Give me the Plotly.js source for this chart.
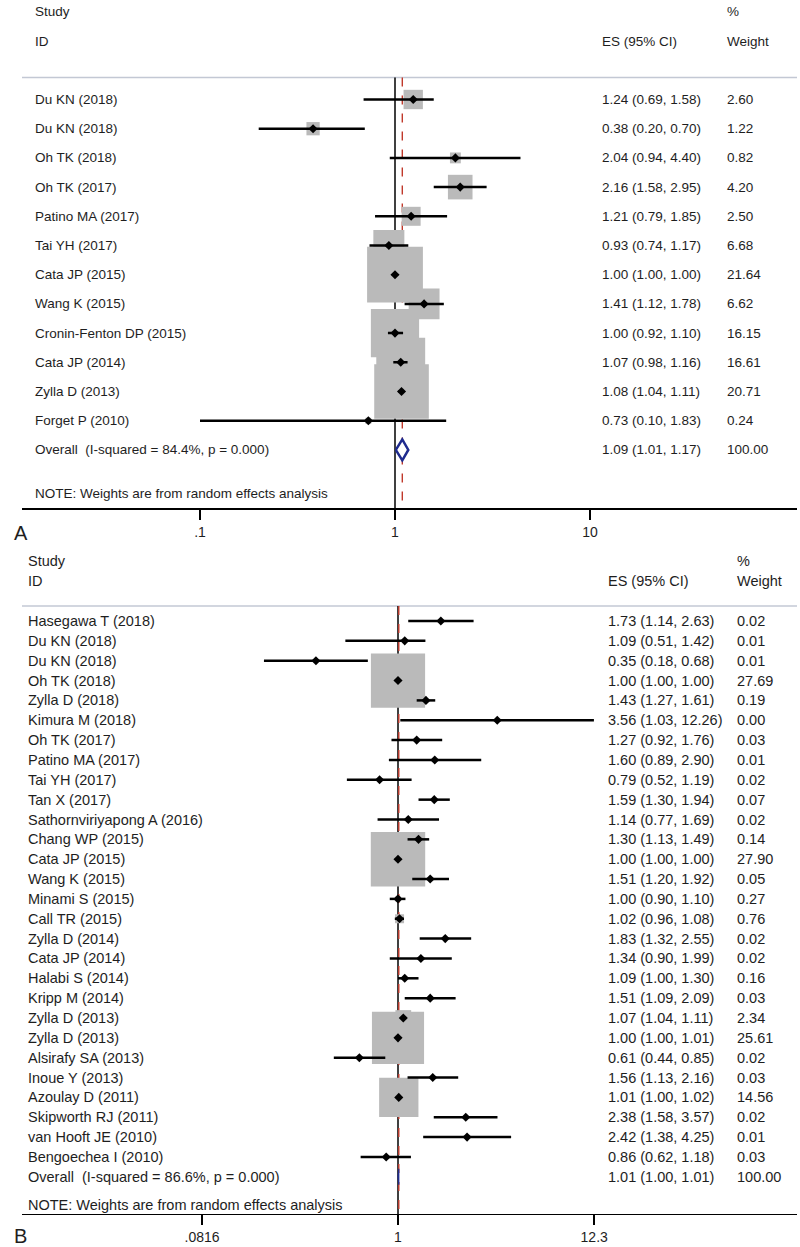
<!DOCTYPE html>
<html>
<head>
<meta charset="utf-8">
<script src="https://cdn.plot.ly/plotly-3.0.1.min.js"></script>
<style>
  body { margin: 0; background: #fff; }
  #forest { width: 800px; height: 1247px; }
</style>
</head>
<body>
<div id="forest"></div>
<script>
// Panel A - study estimates (ES with 95% CI) and random-effects weights
var studiesA = ['Du KN (2018)', 'Du KN (2018)', 'Oh TK (2018)', 'Oh TK (2017)', 'Patino MA (2017)',
    'Tai YH (2017)', 'Cata JP (2015)', 'Wang K (2015)', 'Cronin-Fenton DP (2015)', 'Cata JP (2014)',
    'Zylla D (2013)', 'Forget P (2010)'];
var esA = [1.24, 0.38, 2.04, 2.16, 1.21, 0.93, 1.00, 1.41, 1.00, 1.07, 1.08, 0.73];
var loA = [0.69, 0.20, 0.94, 1.58, 0.79, 0.74, 1.00, 1.12, 0.92, 0.98, 1.04, 0.10];
var hiA = [1.58, 0.70, 4.40, 2.95, 1.85, 1.17, 1.00, 1.78, 1.10, 1.16, 1.11, 1.83];
var weightA = [2.60, 1.22, 0.82, 4.20, 2.50, 6.68, 21.64, 6.62, 16.15, 16.61, 20.71, 0.24];
var overallA = [1.09, 1.01, 1.17, 100.00];
var overallLabelA = 'Overall  (I-squared = 84.4%, p = 0.000)';

// Panel B
var studiesB = ['Hasegawa T (2018)', 'Du KN (2018)', 'Du KN (2018)', 'Oh TK (2018)', 'Zylla D (2018)',
    'Kimura M (2018)', 'Oh TK (2017)', 'Patino MA (2017)', 'Tai YH (2017)', 'Tan X (2017)',
    'Sathornviriyapong A (2016)', 'Chang WP (2015)', 'Cata JP (2015)', 'Wang K (2015)', 'Minami S (2015)',
    'Call TR (2015)', 'Zylla D (2014)', 'Cata JP (2014)', 'Halabi S (2014)', 'Kripp M (2014)',
    'Zylla D (2013)', 'Zylla D (2013)', 'Alsirafy SA (2013)', 'Inoue Y (2013)', 'Azoulay D (2011)',
    'Skipworth RJ (2011)', 'van Hooft JE (2010)', 'Bengoechea I (2010)'];
var esB = [1.73, 1.09, 0.35, 1.00, 1.43, 3.56, 1.27, 1.60, 0.79, 1.59, 1.14, 1.30, 1.00, 1.51,
    1.00, 1.02, 1.83, 1.34, 1.09, 1.51, 1.07, 1.00, 0.61, 1.56, 1.01, 2.38, 2.42, 0.86];
var loB = [1.14, 0.51, 0.18, 1.00, 1.27, 1.03, 0.92, 0.89, 0.52, 1.30, 0.77, 1.13, 1.00, 1.20,
    0.90, 0.96, 1.32, 0.90, 1.00, 1.09, 1.04, 1.00, 0.44, 1.13, 1.00, 1.58, 1.38, 0.62];
var hiB = [2.63, 1.42, 0.68, 1.00, 1.61, 12.26, 1.76, 2.90, 1.19, 1.94, 1.69, 1.49, 1.00, 1.92,
    1.10, 1.08, 2.55, 1.99, 1.30, 2.09, 1.11, 1.01, 0.85, 2.16, 1.02, 3.57, 4.25, 1.18];
var weightB = [0.02, 0.01, 0.01, 27.69, 0.19, 0.00, 0.03, 0.01, 0.02, 0.07, 0.02, 0.14, 27.90, 0.05,
    0.27, 0.76, 0.02, 0.02, 0.16, 0.03, 2.34, 25.61, 0.02, 0.03, 14.56, 0.02, 0.01, 0.03];
var overallB = [1.01, 1.00, 1.01, 100.00];
var overallLabelB = 'Overall  (I-squared = 86.6%, p = 0.000)';

var ticksA = [0.1, 1, 10];
var tickTextA = ['.1', '1', '10'];
var ticksB = [0.0816, 1, 12.3];
var tickTextB = ['.0816', '1', '12.3'];

var FONT = 'Liberation Sans, Arial, sans-serif';
var TEXT = '#1e1e1e';
var BOX = '#bababa';
var DIAMOND = '#1f2b8e';

function fmt(v) { return v.toFixed(2); }

// builds the traces + annotations for one panel
function panel(opt) {
    var n = opt.studies.length;
    var rows = opt.studies.map(function (s, i) { return i + 1; });
    var ovRow = n + 1;
    var ci = { x: [], y: [] };
    for (var i = 0; i < n; i++) {
        ci.x.push(opt.lo[i], opt.hi[i], null);
        ci.y.push(rows[i], rows[i], null);
    }
    var ov = opt.overall;
    var traces = [
        {   // weight boxes
            x: opt.es, y: rows, xaxis: opt.xa, yaxis: opt.ya,
            type: 'scatter', mode: 'markers', hoverinfo: 'skip',
            marker: {
                symbol: 'square', color: BOX, opacity: 1, line: { width: 0 },
                size: opt.weight.map(function (w) { return opt.boxScale * Math.sqrt(w); })
            }
        },
        {   // confidence intervals
            x: ci.x, y: ci.y, xaxis: opt.xa, yaxis: opt.ya,
            type: 'scatter', mode: 'lines', hoverinfo: 'skip',
            line: { color: '#000', width: 2.5 }
        },
        {   // point estimates
            x: opt.es, y: rows, xaxis: opt.xa, yaxis: opt.ya,
            type: 'scatter', mode: 'markers', hoverinfo: 'skip',
            marker: { symbol: 'diamond', size: 7, color: '#000', opacity: 1 }
        },
        {   // overall diamond
            x: [ov[1], ov[0], ov[2], ov[0], ov[1]],
            y: [ovRow, ovRow - opt.dh, ovRow, ovRow + opt.dh, ovRow],
            xaxis: opt.xa, yaxis: opt.ya,
            type: 'scatter', mode: 'lines', fill: 'toself', hoverinfo: 'skip',
            fillcolor: opt.diamondFill,
            line: { color: DIAMOND, width: opt.diamondLine }
        }
    ];

    var ann = [];
    function txt(x, y, s) {
        ann.push({
            xref: 'paper', yref: opt.ya, x: x, y: y, text: s,
            xanchor: 'left', yanchor: 'middle', showarrow: false,
            font: { family: FONT, size: opt.fs, color: TEXT }
        });
    }
    txt(opt.colStudy, -2, 'Study');
    txt(opt.colStudy, -1, 'ID');
    txt(opt.colES, -1, 'ES (95% CI)');
    txt(opt.colW, -2, '%');
    txt(opt.colW, -1, 'Weight');
    for (var j = 0; j < n; j++) {
        txt(opt.colStudy, rows[j], opt.studies[j]);
        txt(opt.colES, rows[j], fmt(opt.es[j]) + ' (' + fmt(opt.lo[j]) + ', ' + fmt(opt.hi[j]) + ')');
        txt(opt.colW, rows[j], fmt(opt.weight[j]));
    }
    txt(opt.colStudy, ovRow, opt.overallLabel);
    txt(opt.colES, ovRow, fmt(ov[0]) + ' (' + fmt(ov[1]) + ', ' + fmt(ov[2]) + ')');
    txt(opt.colW, ovRow, fmt(ov[3]));
    txt(opt.colStudy, opt.noteRow, 'NOTE: Weights are from random effects analysis');

    var shapes = [
        { type: 'line', layer: 'below', xref: 'paper', yref: opt.ya, x0: 0.0275, x1: 0.99625,
          y0: opt.sepRow, y1: opt.sepRow, line: { color: '#c3c8d4', width: 1.5 } },
        { type: 'line', layer: 'below', xref: opt.xa, yref: opt.ya, x0: 1, x1: 1,
          y0: opt.sepRow, y1: opt.axisRow, line: { color: '#000', width: 1.5 } },
        { type: 'line', layer: 'below', xref: opt.xa, yref: opt.ya, x0: ov[0], x1: ov[0],
          y0: opt.sepRow, y1: opt.axisRow, line: { color: '#c0392b', width: 1.4, dash: 'dash' } }
    ];
    return { traces: traces, ann: ann, shapes: shapes };
}

var A = panel({
    studies: studiesA, es: esA, lo: loA, hi: hiA, weight: weightA, overall: overallA,
    overallLabel: overallLabelA, xa: 'x', ya: 'y', boxScale: 12, dh: 0.36,
    diamondFill: '#fff', diamondLine: 2.5, fs: 13.5,
    colStudy: 33 / 800, colES: 600 / 800, colW: 725 / 800,
    noteRow: 14.48, sepRow: 0.25, axisRow: 15
});
var B = panel({
    studies: studiesB, es: esB, lo: loB, hi: hiB, weight: weightB, overall: overallB,
    overallLabel: overallLabelB, xa: 'x2', ya: 'y2', boxScale: 10.3, dh: 0.4,
    diamondFill: DIAMOND, diamondLine: 1.2, fs: 14.5,
    colStudy: 26 / 800, colES: 606 / 800, colW: 735 / 800,
    noteRow: 30.42, sepRow: 0.24, axisRow: 30.874
});

function xAxis(anchor, range, vals, text) {
    return {
        type: 'log', domain: [0.0275, 0.99625], range: range, anchor: anchor,
        showline: true, linecolor: '#000', linewidth: 1.5, mirror: false,
        ticks: 'outside', ticklen: 10, tickwidth: 1.5, tickcolor: '#000',
        tickvals: vals, ticktext: text, showgrid: false, zeroline: false,
        tickfont: { family: FONT, size: 14, color: TEXT }
    };
}

var layout = {
    width: 800, height: 1247,
    margin: { l: 0, r: 0, t: 0, b: 0 },
    paper_bgcolor: '#fff', plot_bgcolor: '#fff',
    showlegend: false,
    xaxis: xAxis('y', [-1.9128, 2.0615], ticksA, tickTextA),
    xaxis2: xAxis('y2', [-2.0889, 2.2167], ticksB, tickTextB),
    yaxis: { domain: [0.59238, 1], range: [15.0, -2.4075], visible: false, fixedrange: true },
    yaxis2: { domain: [0.026464, 0.562951], range: [30.874, -2.829], visible: false, fixedrange: true },
    shapes: A.shapes.concat(B.shapes),
    annotations: A.ann.concat(B.ann).concat([
        { xref: 'paper', yref: 'paper', x: 12 / 800, y: 1 - 533 / 1247, text: 'A', showarrow: false,
          xanchor: 'left', yanchor: 'middle', font: { family: FONT, size: 20, color: TEXT } },
        { xref: 'paper', yref: 'paper', x: 12 / 800, y: 1 - 1236 / 1247, text: 'B', showarrow: false,
          xanchor: 'left', yanchor: 'middle', font: { family: FONT, size: 20, color: TEXT } }
    ])
};

Plotly.newPlot('forest', A.traces.concat(B.traces), layout, { displayModeBar: false, staticPlot: true });
</script>
</body>
</html>
